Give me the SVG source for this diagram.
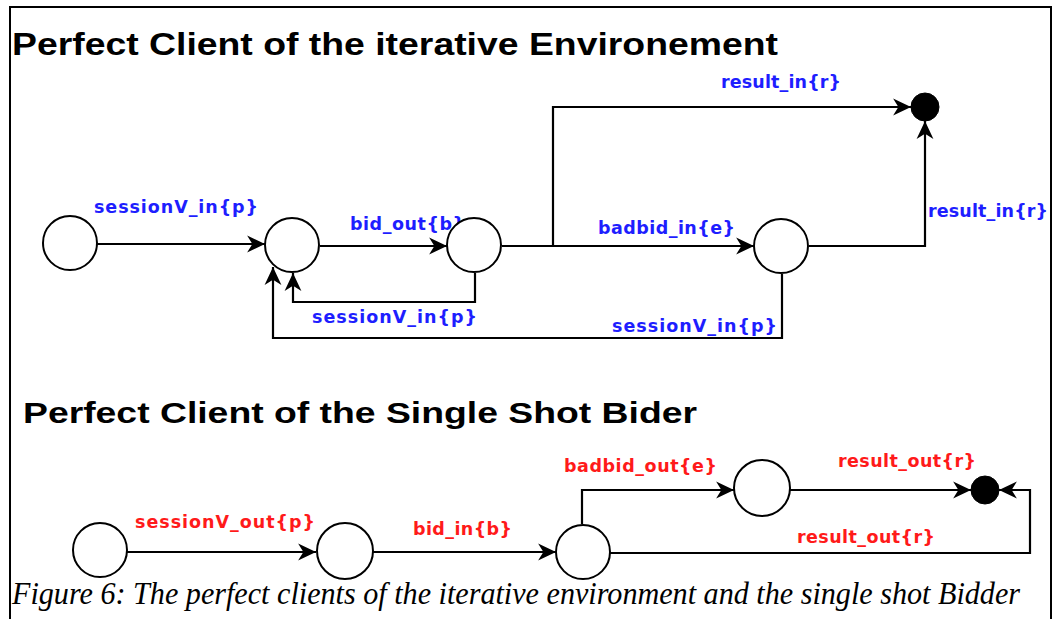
<svg xmlns="http://www.w3.org/2000/svg" width="1053" height="619" viewBox="0 0 1053 619">
<defs>
<style>
.title{font-family:"Liberation Sans",Arial,sans-serif;font-weight:bold;fill:#000}
.lbl{font-family:"DejaVu Sans",Verdana,sans-serif;font-weight:bold;font-size:17.5px}
.blue{fill:#1e1eff}
.red{fill:#ff1a1a}
.node{fill:#fff;stroke:#000;stroke-width:2}
.final{fill:#000;stroke:#000;stroke-width:1}
.edge{fill:none;stroke:#000;stroke-width:2.2;marker-end:url(#arr)}
.cap{font-family:"Liberation Serif","Times New Roman",serif;font-style:italic;font-size:31px;fill:#000}
</style>
<marker id="arr" markerUnits="userSpaceOnUse" markerWidth="20" markerHeight="20" viewBox="-17 -9 19 18" refX="0" refY="0" orient="auto">
<path d="M0,0 L-17,-8 L-12,0 L-17,8 Z" fill="#000"/>
</marker>
</defs>
<rect width="1053" height="619" fill="#fff"/>
<path d="M10,619 V7 H1051 V619" fill="none" stroke="#000" stroke-width="2"/>
<text class="title" x="12" y="55" font-size="32" textLength="766" lengthAdjust="spacingAndGlyphs">Perfect Client of the iterative Environement</text>
<text class="title" x="23" y="423" font-size="29" textLength="674" lengthAdjust="spacingAndGlyphs">Perfect Client of the Single Shot Bider</text>
<g id="connectors">
<path class="edge" d="M97,244 H265"/>
<path class="edge" d="M320,246 H447"/>
<path class="edge" d="M502,246 H754"/>
<path class="edge" d="M553,246 V107 H911"/>
<path class="edge" d="M809,246 H925 V121"/>
<path class="edge" d="M475,273 V302 H293 V273"/>
<path class="edge" d="M782,274 V338 H273 V267"/>
<path class="edge" d="M127,552 H316"/>
<path class="edge" d="M373,552 H556"/>
<path class="edge" d="M582,524 V490 H734"/>
<path class="edge" d="M790,490 H971"/>
<path class="edge" d="M610,553 H1030 V490 H999"/>
</g>
<g id="labels-top">
<text class="lbl blue" x="721" y="88" textLength="120" lengthAdjust="spacing">result_in{r}</text>
<text class="lbl blue" x="94" y="213" textLength="164" lengthAdjust="spacing">sessionV_in{p}</text>
<text class="lbl blue" x="350" y="230" textLength="115" lengthAdjust="spacing">bid_out{b}</text>
<text class="lbl blue" x="598" y="234" textLength="137" lengthAdjust="spacing">badbid_in{e}</text>
<text class="lbl blue" x="928" y="217" textLength="120" lengthAdjust="spacing">result_in{r}</text>
<text class="lbl blue" x="312" y="323" textLength="165" lengthAdjust="spacing">sessionV_in{p}</text>
<text class="lbl blue" x="612" y="332" textLength="165" lengthAdjust="spacing">sessionV_in{p}</text>
</g>
<g id="labels-bottom">
<text class="lbl red" x="564" y="472" textLength="153" lengthAdjust="spacing">badbid_out{e}</text>
<text class="lbl red" x="838" y="467" textLength="138" lengthAdjust="spacing">result_out{r}</text>
<text class="lbl red" x="797" y="543" textLength="138" lengthAdjust="spacing">result_out{r}</text>
<text class="lbl red" x="135" y="528" textLength="180" lengthAdjust="spacing">sessionV_out{p}</text>
<text class="lbl red" x="413" y="535" textLength="99" lengthAdjust="spacing">bid_in{b}</text>
</g>
<g id="n1"><circle class="node" cx="70" cy="243" r="27"/></g>
<g id="n2"><circle class="node" cx="292" cy="245" r="27"/></g>
<g id="n3"><circle class="node" cx="474" cy="245" r="27"/></g>
<g id="n4"><circle class="node" cx="781" cy="246" r="27"/></g>
<g id="n5"><circle class="final" cx="925" cy="107" r="14"/></g>
<g id="m1"><circle class="node" cx="100" cy="550" r="27"/></g>
<g id="m2"><circle class="node" cx="345" cy="551" r="28"/></g>
<g id="m3"><circle class="node" cx="583" cy="552" r="27"/></g>
<g id="m4"><circle class="node" cx="762" cy="488" r="28"/></g>
<g id="m5"><circle class="final" cx="985" cy="490" r="14"/></g>
<text class="cap" x="12" y="604" textLength="1008" lengthAdjust="spacingAndGlyphs">Figure 6: The perfect clients of the iterative environment and the single shot Bidder</text>
</svg>
